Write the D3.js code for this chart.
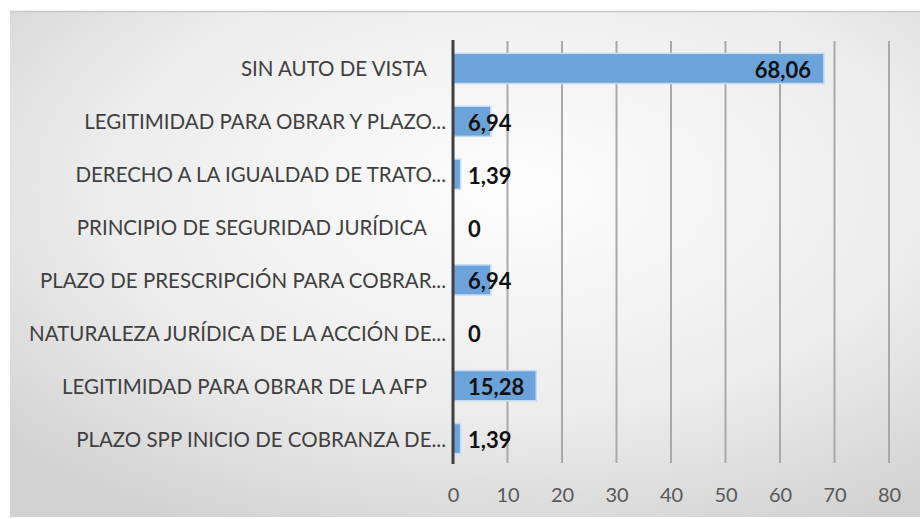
<!DOCTYPE html>
<html>
<head>
<meta charset="utf-8">
<script src="https://cdn.jsdelivr.net/npm/d3@7"></script>
<style>
  body { margin: 0; background: #fff; }
  svg { display: block; }
</style>
</head>
<body>
<svg id="chart" width="920" height="519"></svg>
<script>
const categories = [
  'SIN AUTO DE VISTA',
  'LEGITIMIDAD PARA OBRAR Y PLAZO...',
  'DERECHO A LA IGUALDAD DE TRATO...',
  'PRINCIPIO DE SEGURIDAD JURÍDICA',
  'PLAZO DE PRESCRIPCIÓN PARA COBRAR...',
  'NATURALEZA JURÍDICA DE LA ACCIÓN DE...',
  'LEGITIMIDAD PARA OBRAR DE LA AFP',
  'PLAZO SPP INICIO DE COBRANZA DE...'
];
const values = [68.06, 6.94, 1.39, 0, 6.94, 0, 15.28, 1.39];
const ticks = [0, 10, 20, 30, 40, 50, 60, 70, 80];

const svg = d3.select('#chart');

// background panel with soft radial shading
const defs = svg.append('defs');
const grad = defs.append('radialGradient')
  .attr('id', 'bg')
  .attr('cx', '55%').attr('cy', '35%').attr('r', '75%');
grad.append('stop').attr('offset', '0%').attr('stop-color', '#fdfdfd');
grad.append('stop').attr('offset', '60%').attr('stop-color', '#ececec');
grad.append('stop').attr('offset', '100%').attr('stop-color', '#d2d2d2');

svg.append('rect')
  .attr('x', 10).attr('y', 11)
  .attr('width', 915).attr('height', 506)
  .attr('fill', 'url(#bg)');
svg.append('line')
  .attr('x1', 10).attr('x2', 920).attr('y1', 11.5).attr('y2', 11.5)
  .attr('stroke', '#c8c8c8').attr('stroke-width', 1.5);

const x = d3.scaleLinear().domain([0, 80]).range([453, 889]);
const y = d3.scaleBand().domain(categories).range([42, 465]).paddingInner(0.43).paddingOuter(0.215);

// gridlines
svg.append('g')
  .selectAll('line')
  .data(ticks.slice(1))
  .enter()
  .append('line')
  .attr('x1', d => x(d)).attr('x2', d => x(d))
  .attr('y1', 41).attr('y2', 463)
  .attr('stroke', '#a9a9a9')
  .attr('stroke-width', 2);

// x-axis tick labels
svg.append('g')
  .attr('transform', 'translate(0,495)')
  .call(d3.axisBottom(x).tickValues(ticks).tickSize(0).tickPadding(0))
  .call(g => g.select('.domain').remove())
  .selectAll('text')
  .attr('dy', '0.35em')
  .style('font-family', 'Lato, "Open Sans", sans-serif')
  .style('font-size', '20px')
  .style('fill', '#595959');

// bars
svg.append('g')
  .selectAll('rect')
  .data(values)
  .enter()
  .append('rect')
  .attr('x', x(0))
  .attr('y', (d, i) => y(categories[i]))
  .attr('width', d => x(d) - x(0))
  .attr('height', y.bandwidth())
  .attr('fill', '#6ba3da')
  .attr('stroke', '#c4dcf2')
  .attr('stroke-width', d => d > 0 ? 1.5 : 0);

// category labels (truncated ones fill the whole label box)
svg.append('g')
  .selectAll('text')
  .data(categories)
  .enter()
  .append('text')
  .attr('x', d => d.endsWith('...') ? 446 : 427)
  .attr('y', d => y(d) + y.bandwidth() / 2)
  .attr('text-anchor', 'end')
  .attr('dominant-baseline', 'central')
  .style('font-family', 'Lato, "Open Sans", sans-serif')
  .style('font-size', '20.5px')
  .style('fill', '#404040')
  .text(d => d);

// value axis line
svg.append('line')
  .attr('x1', x(0)).attr('x2', x(0))
  .attr('y1', 40).attr('y2', 464)
  .attr('stroke', '#404040')
  .attr('stroke-width', 3);

// value labels: inside end when they fit, otherwise near the base
const fmt = v => v === 0 ? '0' : d3.format('.2f')(v).replace('.', ',');
svg.append('g')
  .selectAll('text')
  .data(values)
  .enter()
  .append('text')
  .attr('y', (d, i) => y(categories[i]) + y.bandwidth() / 2 + 1)
  .attr('dominant-baseline', 'central')
  .style('font-family', 'Lato, "Open Sans", sans-serif')
  .style('font-size', '22px')
  .style('font-weight', 'bold')
  .style('fill', '#111')
  .text(fmt)
  .attr('x', function(d) {
    const w = this.getComputedTextLength();
    return Math.max(x(0) + 15, x(d) - 13 - w);
  });
</script>
</body>
</html>
